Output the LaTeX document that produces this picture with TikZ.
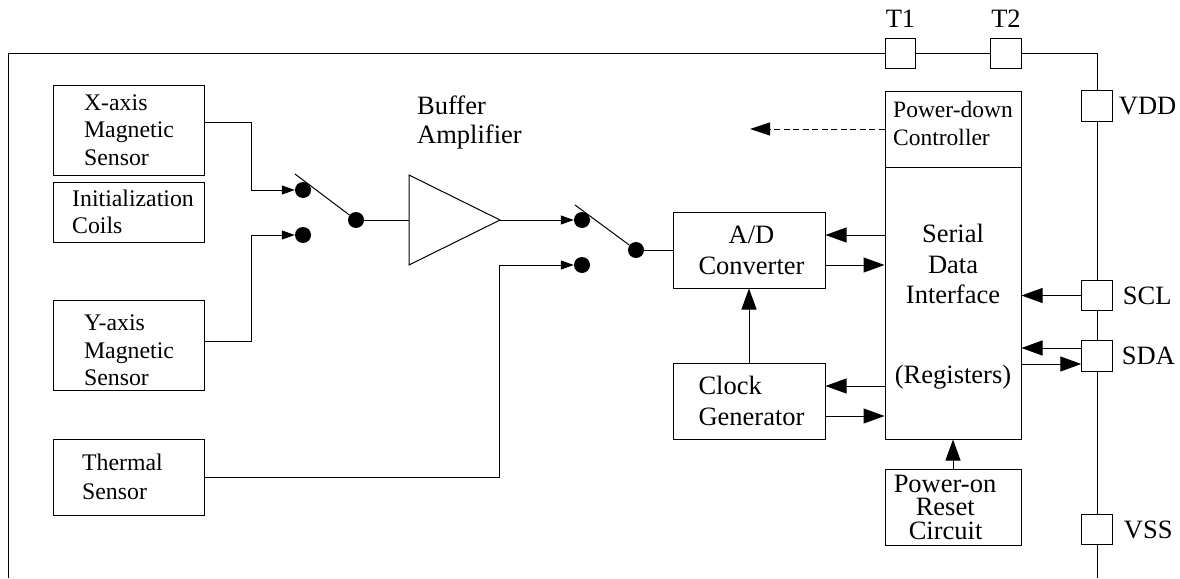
\documentclass[tikz,border=0pt]{standalone}
\usepackage{fontspec}
\setmainfont{Liberation Serif}
\usetikzlibrary{arrows.meta}
\tikzset{
  wire/.style={line width=1pt},
  blockbox/.style={draw, line width=1pt, inner sep=0pt, align=center, font=\fontsize{26.5}{31}\selectfont},
  sensorbox/.style={blockbox, align=left, minimum width=151pt, font=\fontsize{23.8}{27.5}\selectfont},
  pinbox/.style={draw, line width=1pt, fill=white, minimum size=30.5pt, inner sep=0pt},
  pinlabel/.style={font=\fontsize{26.5}{29}\selectfont, inner sep=0pt},
  swdot/.style={circle, fill, minimum size=16pt, inner sep=0pt},
  smalltip/.style={wire, -{Triangle[length=13pt,width=9pt]}},
  bigtip/.style={wire, -{Triangle[length=21pt,width=15pt]}}
}
\begin{document}
\begin{tikzpicture}[x=1pt, y=-1pt]
\useasboundingbox (0,0) rectangle (1180,578);
% sensors
\node[sensorbox, minimum height=90pt] (xsens) at (129,130){X-axis\\Magnetic\\Sensor};
\node[sensorbox, minimum height=60pt] (coils) at (129,212){\hspace*{8pt}Initialization\\\hspace*{8pt}Coils};
\node[sensorbox, minimum height=90pt] (ysens) at (129,345){\rule{0pt}{27pt}Y-axis\\Magnetic\\Sensor};
\node[sensorbox, minimum height=76pt, font=\fontsize{23.8}{29}\selectfont] (tsens) at (129,477){Thermal\hspace*{13pt}\\Sensor};
% switches
\node[swdot] (swa1) at (303,190){};
\node[swdot] (swa2) at (303,235){};
\node[swdot] (swac) at (356,220){};
\node[swdot] (swb1) at (582,220){};
\node[swdot] (swb2) at (582,265){};
\node[swdot] (swbc) at (636,250){};
\coordinate (leva) at (295,174);
\coordinate (levb) at (575,205);
% amplifier
\coordinate (ampin) at (409,220);
\coordinate (ampout) at (500,220);
\draw[wire] (409,175) -- (ampout) -- (409,265) -- cycle;
\node[pinlabel, anchor=west, align=left] (amplabel) at (417,122){Buffer\\Amplifier};
% blocks
\node[blockbox, minimum width=152pt, minimum height=76pt] (adc) at (749,250){\hspace*{5pt}A/D\\\hspace*{5pt}Converter};
\node[blockbox, minimum width=152pt, minimum height=76pt, align=left] (clock) at (749,401){\hspace*{5pt}Clock\\\hspace*{5pt}Generator};
\node[blockbox, minimum width=136pt, minimum height=76pt, align=left, font=\fontsize{23.5}{28}\selectfont] (pdown) at (953,129){Power-down\\Controller\rule[-11pt]{0pt}{0pt}};
\node[blockbox, minimum width=136pt, minimum height=272pt, font=\fontsize{26.5}{30.5}\selectfont] (serial) at (953,303){\rule{0pt}{26pt}Serial\\Data\\Interface\\[49pt](Registers)};
\node[blockbox, minimum width=136pt, minimum height=76pt, align=left, font=\fontsize{26.5}{23.5}\selectfont] (reset) at (953,507){Power-on\hspace*{16pt}\\\hspace*{22pt}Reset\\\hspace*{15pt}Circuit};
% pins
\node[pinbox, label={[pinlabel, yshift=10pt]above:T1}] (tone) at (900.5,53.5){};
\node[pinbox, label={[pinlabel, yshift=10pt]above:T2}] (ttwo) at (1006,53.5){};
\node[pinbox, label={[pinlabel, xshift=6pt]right:VDD}] (vdd) at (1097,106){};
\node[pinbox, label={[pinlabel, xshift=10pt]right:SCL}] (scl) at (1097,295.5){};
\node[pinbox, label={[pinlabel, xshift=9pt]right:SDA}] (sda) at (1097,356){};
\node[pinbox, label={[pinlabel, xshift=11pt]right:VSS}] (vss) at (1097,529.5){};
% frame
\coordinate (fbl) at (8.5,578);
\coordinate (ftl) at (8.5,53.5);
\coordinate (ftr) at (1097,53.5);
\coordinate (fbr) at (1097,578);
\draw[wire] (fbl) -- (ftl) -- (tone.west);
\draw[wire] (tone.east) -- (ttwo.west);
\draw[wire] (ttwo.east) -- (ftr) -- (vdd.north);
\draw[wire] (vdd.south) -- (scl.north);
\draw[wire] (scl.south) -- (sda.north);
\draw[wire] (sda.south) -- (vss.north);
\draw[wire] (vss.south) -- (fbr);
% signal path
\draw[smalltip] ([yshift=8pt]xsens.east) -- ++(46,0) |- (swa1);
\draw[smalltip] ([yshift=4pt]ysens.east) -- ++(46,0) |- (swa2);
\draw[smalltip] (tsens.east) -| (499,265) -- (swb2);
\draw[wire] (leva) -- (swac);
\draw[wire] (swac) -- (ampin);
\draw[smalltip] (ampout) -- (swb1);
\draw[wire] (levb) -- (swbc);
\draw[wire] (swbc) -- (swbc -| adc.west);
% block arrows
\draw[bigtip] ([yshift=15pt]adc.east -| serial.west) -- ([yshift=15pt]adc.east);
\draw[bigtip] ([yshift=-15pt]adc.east) -- ([yshift=-15pt]adc.east -| serial.west);
\draw[bigtip] ([yshift=15pt]clock.east -| serial.west) -- ([yshift=15pt]clock.east);
\draw[bigtip] ([yshift=-15pt]clock.east) -- ([yshift=-15pt]clock.east -| serial.west);
\draw[bigtip] (clock.north) -- (adc.south);
\draw[bigtip] (reset.north) -- (serial.south);
\draw[bigtip] (scl.west) -- (scl.west -| serial.east);
\draw[bigtip] ([yshift=8pt]sda.west) -- ([yshift=8pt]sda.west -| serial.east);
\draw[bigtip] ([yshift=-8pt]sda.west -| serial.east) -- ([yshift=-8pt]sda.west);
\coordinate (pdend) at (750,129);
\draw[wire, dash pattern=on 6pt off 3.5pt, -{Triangle[length=20pt,width=13pt]}] (pdown.west) -- (pdend);
\end{tikzpicture}
\end{document}
